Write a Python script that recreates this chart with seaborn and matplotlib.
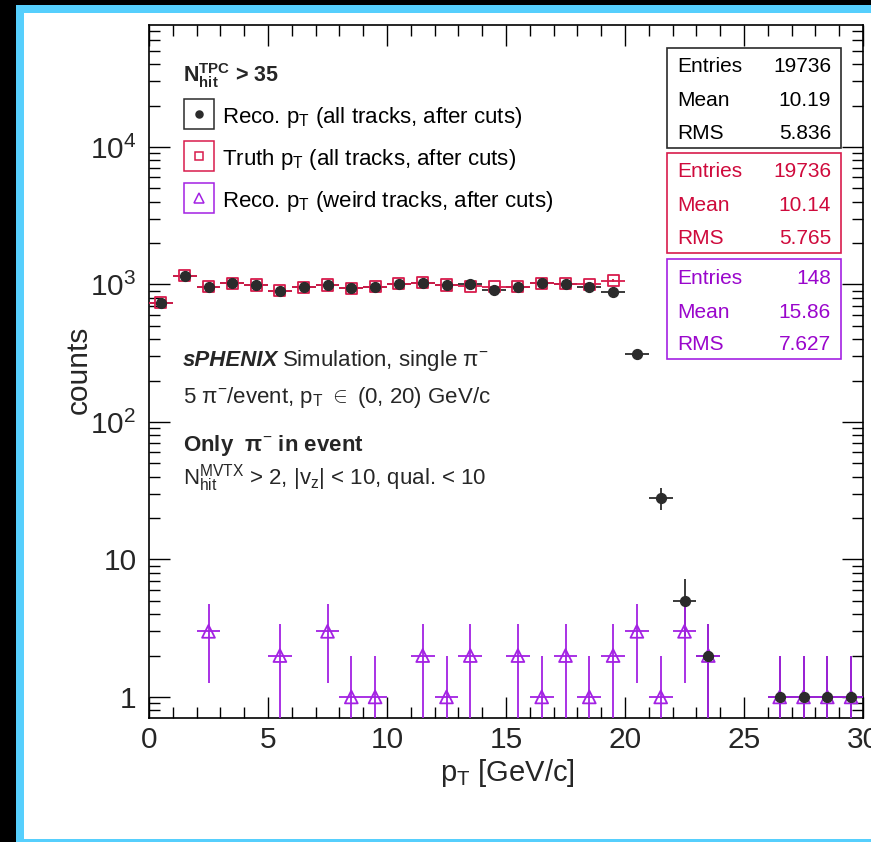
import numpy as np
import pandas as pd
import matplotlib
matplotlib.use("Agg")
import matplotlib.pyplot as plt
import seaborn as sns
from matplotlib.patches import Rectangle
from matplotlib.lines import Line2D
from matplotlib.ticker import MultipleLocator, FixedLocator, FixedFormatter, NullFormatter

# ---------------- data ----------------
bin_centers = np.arange(0.5, 30.0, 1.0)
reco_all = [737, 1159, 964, 1020, 991, 902, 954, 991, 938, 964,
            1009, 1031, 991, 1009, 912, 964, 1020, 1009, 954, 878,
            312, 28, 5, 2, 0, 0, 1, 1, 1, 1]
truth_all = [737, 1159, 964, 1020, 991, 902, 954, 991, 938, 964,
             1009, 1031, 991, 971, 964, 964, 1020, 1009, 1003, 1066,
             0, 0, 0, 0, 0, 0, 0, 0, 0, 0]
reco_weird = [0, 0, 3, 0, 0, 2, 0, 3, 1, 1,
              0, 2, 1, 2, 0, 2, 1, 2, 1, 2,
              3, 1, 3, 2, 0, 0, 1, 1, 1, 1]

series_labels = ["Reco. $\\mathregular{p_{T}}$ (all tracks, after cuts)",
                 "Truth $\\mathregular{p_{T}}$ (all tracks, after cuts)",
                 "Reco. $\\mathregular{p_{T}}$ (weird tracks, after cuts)"]
stat_names = ["Entries", "Mean", "RMS"]
stat_values = [["19736", "10.19", "5.836"],
               ["19736", "10.14", "5.765"],
               ["148", "15.86", "7.627"]]
x_ticks = [0, 5, 10, 15, 20, 25, 30]
y_ticks = [1, 10, 100, 1000, 10000]
y_tick_labels = ["1", "10", "$\\mathregular{10^{2}}$", "$\\mathregular{10^{3}}$", "$\\mathregular{10^{4}}$"]

# ---------------- style ----------------
sns.set_style("ticks")
plt.rcParams["font.family"] = ["Liberation Sans", "DejaVu Sans"]
plt.rcParams["mathtext.fontset"] = "custom"
plt.rcParams["mathtext.rm"] = "Liberation Sans"
plt.rcParams["mathtext.it"] = "Liberation Sans:italic"
plt.rcParams["mathtext.bf"] = "Liberation Sans:bold"
plt.rcParams["mathtext.sf"] = "Liberation Sans"

BLACK = "#2b2b2b"
RED = "#d81b4c"
PURPLE = "#a321e3"
RED_TXT = "#cf0a3c"
PURPLE_TXT = "#9a06cc"
CYAN = "#56cffd"

W, H = 871, 842
fig = plt.figure(figsize=(W / 100, H / 100), dpi=100)
fig.patch.set_facecolor("white")


def fx(x):
    return x / W


def fy(y):
    return 1 - y / H


# frame decorations
fig.add_artist(Rectangle((0, fy(5)), 1, 5 / H, transform=fig.transFigure, facecolor="black", edgecolor="none", zorder=0))
fig.add_artist(Rectangle((0, 0), 15.5 / W, 1, transform=fig.transFigure, facecolor="black", edgecolor="none", zorder=0))
fig.add_artist(Rectangle((fx(15.5), fy(13)), 1, 8 / H, transform=fig.transFigure, facecolor=CYAN, edgecolor="none", zorder=0))
fig.add_artist(Rectangle((fx(15.5), 0), 8 / W, fy(5), transform=fig.transFigure, facecolor=CYAN, edgecolor="none", zorder=0))
fig.add_artist(Rectangle((fx(15.5), 0), 1, 3.5 / H, transform=fig.transFigure, facecolor=CYAN, edgecolor="none", zorder=0))

ax_l, ax_r, ax_t, ax_b = 149, 863, 25, 718
ax = fig.add_axes([fx(ax_l), fy(ax_b), (ax_r - ax_l) / W, (ax_b - ax_t) / H])
ax.set_facecolor("white")
ax.set_yscale("log")
ax.set_xlim(0, 30)
ax.set_ylim(0.703, 7.7e4)


def draw(series, color, marker, size, filled, z_bar, z_mark):
    y = np.asarray(series, dtype=float)
    m = y > 0
    x = bin_centers[m]
    y = y[m]
    e = np.sqrt(y)
    lo = np.minimum(e, y - 1e-4)
    ax.errorbar(x, y, xerr=0.5, yerr=[lo, e], fmt="none", ecolor=color,
                elinewidth=1.3, capsize=0, zorder=z_bar)
    sub = pd.DataFrame({"pt": x, "counts": y})
    sns.scatterplot(data=sub, x="pt", y="counts", ax=ax, marker=marker, s=size,
                    color=color, linewidth=1.3, legend=False, zorder=z_mark)
    coll = ax.collections[-1]
    coll.set_facecolor(color if filled else "none")
    coll.set_edgecolor(color)
    coll.set_linewidth(1.0 if filled else 1.3)


draw(reco_all, BLACK, "o", 50, True, 3, 8)
draw(truth_all, RED, "s", 64, False, 4, 6)
draw(reco_weird, PURPLE, "^", 85, False, 5, 7)

ax.set_xlabel("")
ax.set_ylabel("")

# ticks
ax.xaxis.set_major_locator(FixedLocator(x_ticks))
ax.xaxis.set_minor_locator(MultipleLocator(1))
ax.yaxis.set_major_locator(FixedLocator(y_ticks))
ax.yaxis.set_major_formatter(FixedFormatter(y_tick_labels))
minor_y = [k * 10 ** d for d in range(-1, 5) for k in range(2, 10)]
ax.yaxis.set_minor_locator(FixedLocator(minor_y))
ax.yaxis.set_minor_formatter(NullFormatter())
ax.tick_params(which="both", direction="in", top=True, right=True, width=1.0, color="black")
ax.tick_params(which="major", length=15, labelsize=21.5)
ax.tick_params(which="minor", length=7.8)
ax.tick_params(axis="x", which="major", pad=6)
ax.tick_params(axis="y", which="major", pad=9)
for sp in ax.spines.values():
    sp.set_color("black")
    sp.set_linewidth(1.2)

# axis titles
fig.text(fx(507), fy(781), "$\\mathregular{p_{T}}$ [GeV/c]", ha="center", va="baseline", fontsize=21)
fig.text(fx(79), fy(370), "counts", ha="center", va="center", rotation=90, fontsize=21.5)

# header & legend
fig.text(fx(183), fy(82), "$\\mathbf{N_{hit}^{TPC}}$ > 35", fontsize=15.5, fontweight="bold", va="baseline")
leg_colors = [BLACK, RED, PURPLE]
leg_markers = ["o", "s", "^"]
leg_msize = [5, 6, 6.5]
leg_tops = [99, 141, 183]
for lab, c, mk, ms, top in zip(series_labels, leg_colors, leg_markers, leg_msize, leg_tops):
    fig.add_artist(Rectangle((fx(184), fy(top + 30)), 30 / W, 30 / H, transform=fig.transFigure,
                             facecolor="white", edgecolor=c, linewidth=1.1, zorder=6))
    fig.add_artist(Line2D([fx(199)], [fy(top + 15)], transform=fig.transFigure, marker=mk,
                          markersize=ms, color=c, markerfacecolor=c if mk == "o" else "none",
                          markeredgewidth=1.1, linestyle="none", zorder=7))
    fig.text(fx(222), fy(top + 24), lab, fontsize=16, va="baseline", color="black", zorder=7)

# sPHENIX text block
t1 = fig.text(fx(183), fy(366), "sPHENIX", fontsize=16, fontweight="bold", fontstyle="italic", va="baseline")
fig.canvas.draw()
bb = t1.get_window_extent(renderer=fig.canvas.get_renderer())
fig.text(bb.x1 / W + 4 / W, fy(366), "Simulation, single \u03c0$^{-}$", fontsize=16, va="baseline")
fig.text(fx(183), fy(403), "5 \u03c0$^{-}$/event, $\\mathregular{p_{T}}$ $\\in$ (0, 20) GeV/c", fontsize=16, va="baseline")
fig.text(fx(183), fy(451), "Only  \u03c0$^{-}$ in event", fontsize=16, fontweight="bold", va="baseline")
fig.text(fx(183), fy(484), "$\\mathregular{N_{hit}^{MVTX}}$ > 2, |$\\mathregular{v_{z}}$| < 10, qual. < 10", fontsize=16, va="baseline")

# stat boxes
box_edges = [BLACK, RED, PURPLE]
box_text = ["black", RED_TXT, PURPLE_TXT]
box_tb = [(48, 148), (153, 253), (259, 359)]
row_base = [[72, 106, 139], [177, 211, 244], [284, 318, 350]]
for vals, ec, tc, (tp, bt), rows in zip(stat_values, box_edges, box_text, box_tb, row_base):
    fig.add_artist(Rectangle((fx(667), fy(bt)), (841 - 667) / W, (bt - tp) / H, transform=fig.transFigure,
                             facecolor="white", edgecolor=ec, linewidth=1.2, zorder=6))
    for name, v, yb in zip(stat_names, vals, rows):
        fig.text(fx(677), fy(yb), name, fontsize=15, color=tc, va="baseline", zorder=7)
        fig.text(fx(831), fy(yb), v, fontsize=15, color=tc, va="baseline", ha="right", zorder=7)

fig.savefig("out.png", dpi=100)
